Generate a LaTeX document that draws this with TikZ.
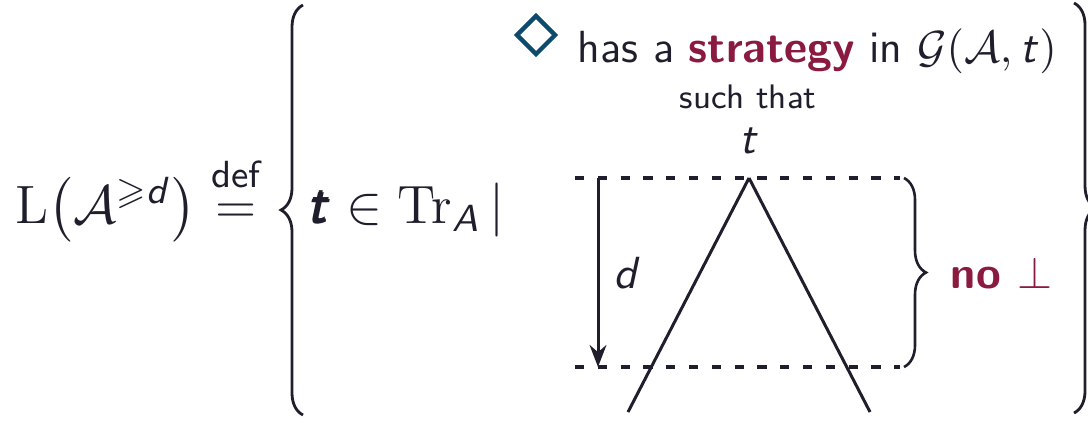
\documentclass[tikz,border=0pt]{standalone}
\usepackage{fix-cm}
\usepackage{amsmath,amssymb}
\usepackage{xcolor}
\definecolor{strat}{HTML}{8A1B3F}
\definecolor{dia}{HTML}{0E4A6C}
\definecolor{ink}{HTML}{1E1E2C}
\usepackage{tikz}
\usetikzlibrary{arrows.meta,shapes.geometric,decorations.pathreplacing}
\DeclareMathAlphabet{\mathsfit}{OT1}{cmss}{m}{sl}
\newcommand{\txtsize}{\fontsize{11.25}{13.5}\selectfont}
\newcommand{\fmlsize}{\fontsize{13.5}{16}\selectfont}

\begin{document}
\begin{tikzpicture}[x=0.25pt, y=0.25pt, color=ink,
    txt/.style={font=\txtsize\sffamily, text=ink, inner sep=0pt},
    fml/.style={font=\fmlsize, text=ink, inner sep=0pt, anchor=base west},
    edge/.style={line width=0.75pt},
    guide/.style={line width=0.8pt, dash pattern=on 2.3pt off 3.4pt},
    depth/.style={line width=0.75pt, -{Stealth[length=5.5pt, width=4.2pt]}},
    bigbrace/.style={decorate, decoration={brace, amplitude=5.5pt}, line width=0.7pt},
    smallbrace/.style={decorate, decoration={brace, amplitude=5.5pt}, line width=0.65pt}]
  \useasboundingbox (0,0) rectangle (1088,422);
  \clip (0,0) rectangle (1088,422);
  \node[fml] (lhs) at (15,199)
       {$\mathrm{L}\bigl(\mathcal{A}^{\geqslant \mathsfit{d}}\bigr)
         \stackrel{\textsf{def}\rule[-2.5pt]{0pt}{0pt}}{=}$};
  \node[fml] (set) at (308,199)
       {$\pmb{\mathsfit{t}} \in \mathrm{Tr}_{\mathsfit{A}}\,|$};
  \node[draw=dia, diamond, line width=1.1pt, minimum size=10pt, inner sep=0pt] (dia) at (536,387) {};
  \node[txt, anchor=base west] (goal) at (577,360)
       {has a \textbf{\color{strat}strategy} in $\mathcal{G}(\mathcal{A}, \mathsfit{t})$};
  \node[txt, anchor=base, font=\fontsize{8.5}{10}\selectfont\sffamily] (such) at (748,314) {such that};
  \node[txt, anchor=base] (root) at (749,269) {$\mathsfit{t}$};
  \coordinate (apex) at (749,244);
  \coordinate (lfoot) at (628,10);
  \coordinate (rfoot) at (870,10);
  \coordinate (topl) at (575,244);
  \coordinate (topr) at (900,244);
  \coordinate (botl) at (575,55);
  \coordinate (botr) at (900,55);
  \coordinate (atop) at (598,244);
  \coordinate (abot) at (598,55);
  \draw[guide] (topl) -- (topr);
  \draw[guide] (botl) -- (botr);
  \draw[edge] (apex) -- (lfoot);
  \draw[edge] (apex) -- (rfoot);
  \draw[depth] (atop) -- (abot);
  \node[txt, anchor=base] (dlab) at (627,134) {$\mathsfit{d}$};
  \draw[smallbrace] (904,244) -- (904,55);
  \node[txt, anchor=base west, font=\txtsize\sffamily\bfseries, text=strat] (nobot) at (950,134) {no $\perp$};
  \draw[bigbrace] (303,7) -- (303,417);
  \draw[bigbrace] (1074,419) -- (1074,9);
\end{tikzpicture}
\end{document}
